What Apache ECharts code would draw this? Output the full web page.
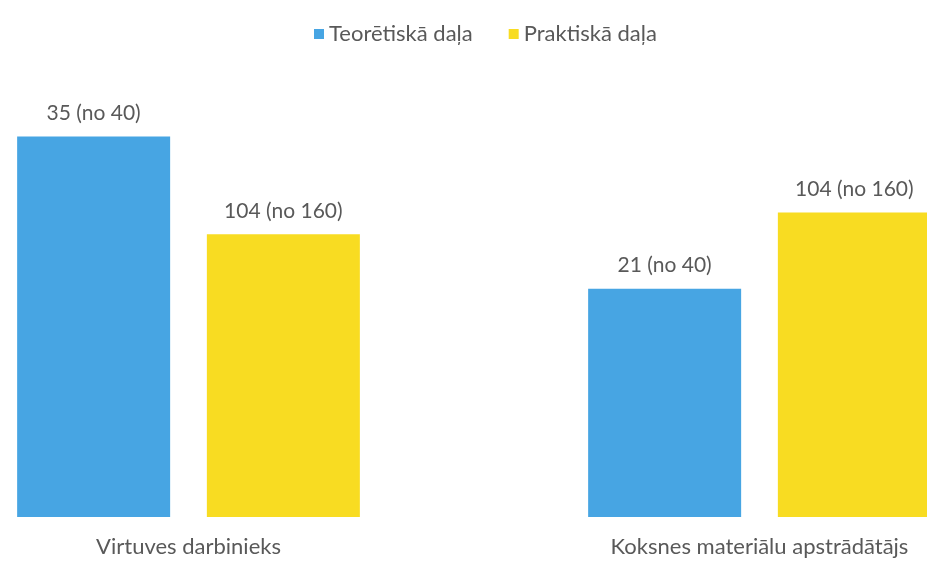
<!DOCTYPE html>
<html>
<head>
<meta charset="utf-8">
<title>Teorētiskā un praktiskā daļa</title>
<script src="https://cdn.jsdelivr.net/npm/echarts@6/dist/echarts.min.js"></script>
<style>
  html, body { margin: 0; padding: 0; background: #fff; }
  #chart { width: 927px; height: 565px; }
</style>
</head>
<body>
<div id="chart"></div>
<script>
// profesijas
const categories = ['Virtuves darbinieks', 'Koksnes materiālu apstrādātājs']
const seriesNames = ['Teorētiskā daļa', 'Praktiskā daļa']

// stundas: izpildīts / kopā
const theoryDone = [35, 21]
const theoryTotal = [40, 40]
const practiceDone = [104, 104]
const practiceTotal = [160, 160]

// stabiņu augstums (%), nolasīts no attēla
const theoryHeight = [87.5, 52.5]
const practiceHeight = [65, 70]

const textColor = '#595959'
const font = 'Lato, "Open Sans", sans-serif'

const chart = echarts.init(document.getElementById('chart'))

const makeLabel = (done, total) => ({
  show: true,
  position: 'top',
  distance: 13,
  color: textColor,
  fontSize: 21,
  fontFamily: font,
  formatter: (p) => done[p.dataIndex] + ' (no ' + total[p.dataIndex] + ')'
})

const option = {
  animation: false,
  legend: {
    data: seriesNames,
    top: 18,
    left: 309,
    icon: 'rect',
    itemWidth: 10,
    itemHeight: 10,
    itemGap: 36,
    textStyle: { color: textColor, fontSize: 22, fontFamily: font }
  },
  grid: { left: -97, width: 1142, top: 82, bottom: 48, outerBoundsMode: 'none' },
  xAxis: {
    type: 'category',
    data: categories,
    axisLine: { show: false },
    axisTick: { show: false },
    axisLabel: { color: textColor, fontSize: 22, fontFamily: font, margin: 19 }
  },
  yAxis: {
    type: 'value',
    min: 0,
    max: 100,
    show: false,
    splitLine: { show: false }
  },
  series: [
    {
      name: seriesNames[0],
      type: 'bar',
      data: theoryHeight,
      barWidth: 153,
      barGap: '24%',
      itemStyle: { color: '#47a5e3' },
      label: makeLabel(theoryDone, theoryTotal)
    },
    {
      name: seriesNames[1],
      type: 'bar',
      data: practiceHeight,
      barWidth: 153,
      barGap: '24%',
      itemStyle: { color: '#f8dc22' },
      label: makeLabel(practiceDone, practiceTotal)
    }
  ]
}

chart.setOption(option)
</script>
</body>
</html>
